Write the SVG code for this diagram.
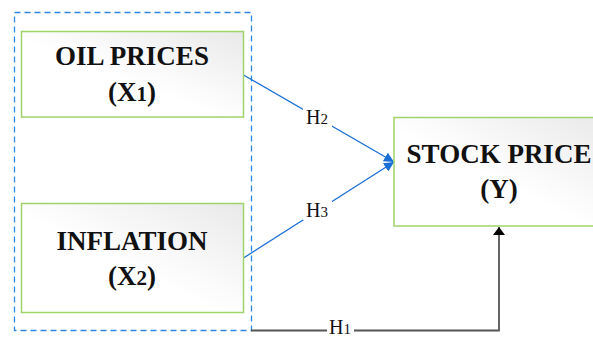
<svg xmlns="http://www.w3.org/2000/svg" width="593" height="338" viewBox="0 0 593 338">
<defs>
<linearGradient id="g" x1="1" y1="0" x2="0" y2="1">
<stop offset="0" stop-color="#e9e9e9"/>
<stop offset="0.55" stop-color="#ffffff"/>
<stop offset="1" stop-color="#ffffff"/>
</linearGradient>
<marker id="ab" viewBox="0 0 10 10" refX="10" refY="5" markerWidth="10" markerHeight="10" markerUnits="userSpaceOnUse" orient="auto">
<path d="M0,0 L10,5 L0,10 z" fill="#1a6fd6"/>
</marker>
<marker id="ak" viewBox="0 0 10 10" refX="10" refY="5" markerWidth="8" markerHeight="12" markerUnits="userSpaceOnUse" orient="auto" preserveAspectRatio="none">
<path d="M0,0 L10,5 L0,10 z" fill="#000"/>
</marker>
</defs>
<style>
.box{fill:url(#g);stroke:#9fd46a;stroke-width:1.5}
.t{font-family:"Liberation Serif","Times New Roman",serif;font-weight:bold;font-size:27px;fill:#111;text-anchor:middle}
.d{font-size:21px}
.l{font-family:"Liberation Serif","Times New Roman",serif;font-size:20px;fill:#111;text-anchor:middle}
.ld{font-size:15px}
.blue{stroke:#1a6fd6;stroke-width:1.3;fill:none}
</style>
<rect x="14.5" y="12.5" width="237" height="318" fill="none" stroke="#2f86e0" stroke-width="1.3" stroke-dasharray="6,4"/>
<g id="connectors">
<line class="blue" x1="243.5" y1="75" x2="394" y2="162" marker-end="url(#ab)"/>
<line class="blue" x1="243.5" y1="258" x2="394" y2="162" marker-end="url(#ab)"/>
<polyline points="251,330.5 499,330.5 499,227" fill="none" stroke="#555" stroke-width="1.8" marker-end="url(#ak)"/>
<rect x="303" y="108" width="29" height="19" fill="#fff"/>
<text class="l" x="317" y="124">H<tspan class="ld">2</tspan></text>
<rect x="303" y="201" width="29" height="19" fill="#fff"/>
<text class="l" x="317" y="217">H<tspan class="ld">3</tspan></text>
<rect x="327" y="320" width="27" height="18" fill="#fff"/>
<text class="l" x="340" y="334">H<tspan class="ld">1</tspan></text>
</g>
<g id="oil">
<rect class="box" x="21.5" y="31.5" width="222" height="85.5"/>
<text class="t" x="132" y="65">OIL PRICES</text>
<text class="t" x="132" y="101">(X<tspan class="d">1</tspan>)</text>
</g>
<g id="inflation">
<rect class="box" x="21.5" y="203.5" width="222" height="109"/>
<text class="t" x="132" y="250">INFLATION</text>
<text class="t" x="132" y="285">(X<tspan class="d">2</tspan>)</text>
</g>
<g id="stock">
<rect class="box" x="394" y="117.5" width="215" height="108.5"/>
<text class="t" x="499" y="163">STOCK PRICE</text>
<text class="t" x="499" y="198">(Y)</text>
</g>
</svg>
